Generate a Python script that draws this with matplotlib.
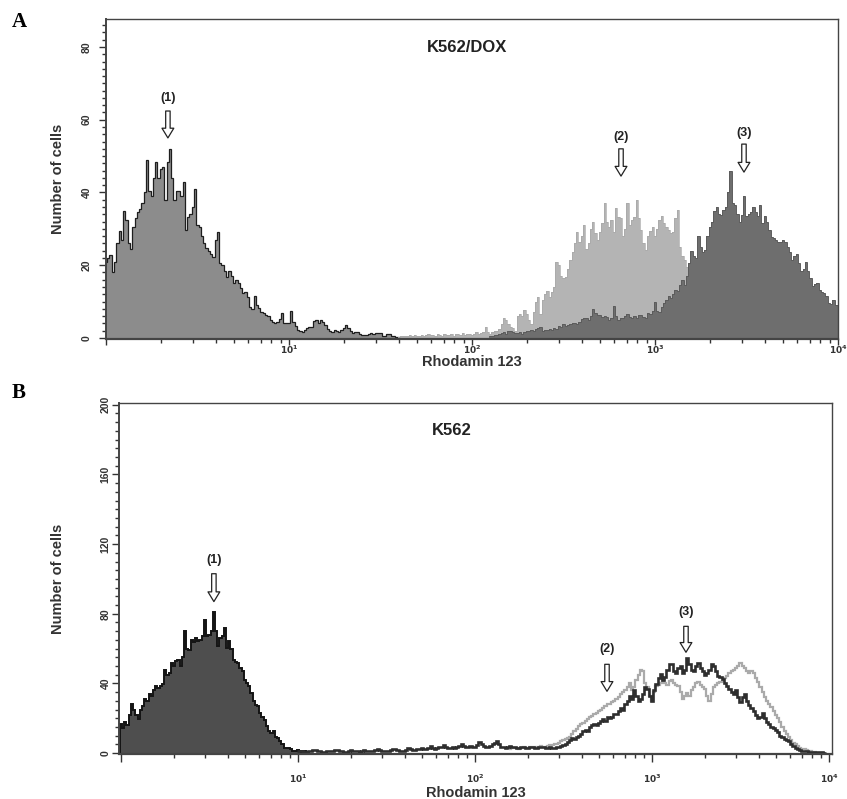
import numpy as np
import matplotlib.pyplot as plt
from matplotlib.ticker import FixedLocator, MultipleLocator, LogLocator, NullFormatter

plt.rcParams['font.family'] = ['Liberation Sans', 'DejaVu Sans']

STEP = 0.0125  # channel width in log10 units

# ---- panel A : K562/DOX ----
a1_start = 0.0
a1_counts = [21, 22, 22.8, 18, 21, 26, 29.5, 27, 35, 32.4, 26, 24.5, 30.6, 33, 34.5, 35.5,
             37, 40, 49, 40.5, 39, 44, 48.5, 44, 46.5, 47, 38, 48.5, 52, 44, 38, 40.5,
             40.5, 39, 43, 29.7, 33.3, 34, 36, 41, 31, 30.6, 28, 26, 24.6, 24, 23, 22.3,
             27, 29, 20.5, 20, 18.5, 16.8, 18.5, 17, 15, 15.9, 15, 13.8, 12.3, 12.5, 11.2,
             8.6, 8, 11.5, 9, 8.3, 7.2, 6.8, 6.2, 5.9, 5, 4.4, 4.2, 4.5, 5.2, 6.8, 4.2, 4,
             4, 7.5, 4.5, 3.4, 2.3, 1.9, 1.7, 2.2, 2.8, 3.1, 3.1, 4.6, 4.8, 4, 4.8, 4.3,
             3.6, 2.4, 2, 1.7, 2.2, 1.9, 1.7, 2.2, 2.8, 3.6, 2.7, 1.8, 1.3, 1.5, 1.7, 1.2,
             0.9, 0.8, 0.7, 1.2, 1.3, 1.0, 1.3, 1.4, 1.3, 0.6, 0.5, 1.2, 1.2, 0.5, 0.4,
             0.3, 0.3]
a2_start = 1.6
a2_counts = [0.3, 0.5, 0.4, 0.6, 0.5, 0.7, 0.4, 0.8, 0.6, 0.5, 0.9, 0.6, 0.8, 1.0, 0.7,
             0.9, 0.6, 1.0,
             0.8, 0.6, 1.1, 0.7, 0.9, 1.2, 0.6, 1.0, 1.2, 0.8, 1.3, 0.7, 1.0, 1.2, 0.9,
             1.2, 1.5, 1.0, 1.3, 1.6, 3.0, 1.5, 1.2, 1.6, 1.8, 2.0, 2.5, 3.8, 5.5, 4.8,
             3.8, 3.0, 2.6, 2.0, 6.0, 6.5, 6.0, 7.7, 6.5, 5.0, 3.8, 7, 10, 11.3, 6.6,
             10.5, 12, 13, 11.3, 12.5, 14, 21, 20, 17, 16.4, 16.8, 19, 21.4, 23.5, 26,
             29.2, 26.5, 28, 31, 24.5, 26, 30, 32, 28.8, 27, 29, 31.5, 37, 32, 30.6, 32.5,
             29, 35.6, 33.3, 33, 28, 30, 37, 31, 32.5, 33.3, 38, 33, 29.7, 26, 24.2, 27.9,
             29.5, 30.6, 27.9, 30, 32.5, 33.4, 31.5, 30.5, 29.7, 28.8, 29, 33, 35.2, 25.1,
             22.5, 21.4, 19.6, 19.5, 18.5, 17, 15, 13, 11, 9, 7, 5.5, 4]
a3_start = 2.1
a3_counts = [0.4, 0.6, 0.8, 0.7, 1.0, 1.3, 1.5, 1.2, 2.0,
             1.8, 1.6, 1.4, 1.3, 1.5, 1.2, 1.6, 2.0, 1.8, 2.2, 1.8, 2.5, 2.6, 3.0, 2.0,
             2.3, 2.2, 2.5, 2.3, 2.6, 2.5, 3.2, 3.0, 3.8, 3.4, 3.5, 3.9, 4.2, 4.0, 3.8,
             4.5, 5.2, 5.6, 5.5, 5.0, 6.0, 7.9, 6.8, 6.2, 6.2, 5.8, 6.0, 5.8, 4.8, 5.5,
             8.8, 6.0, 5.0, 5.4, 5.6, 6.0, 6.5, 5.8, 5.5, 5.9, 5.5, 6.2, 6.4, 5.8, 5.4,
             6.8, 6.6, 7.5, 10, 7.5, 7.2, 8.6, 9.5, 10.5, 11.4, 11, 12, 13.2, 12.8, 14.5,
             15.9, 14.6, 17, 20.5, 24, 22.5, 22, 27.9, 25, 23.7, 24.2, 28, 30.5, 32, 35,
             36, 34, 33.8, 35.2, 36, 40, 46, 37, 36.5, 34, 32, 33.8, 39, 33.5, 34, 34.7,
             36, 34.5, 33.5, 36.5, 31.5, 33.5, 32, 29.7, 27.8, 27.4, 27, 26.3, 26.5, 27,
             26.5, 25, 23.5, 21.4, 22.5, 23, 20.5, 18.5, 19, 20.9, 18.5, 16.5, 14.2, 14.8,
             15, 13.2, 12.5, 12.3, 11.4, 9.5, 9.3, 10.3, 9.1, 9.0]

# ---- panel B : K562 ----
b1_start = 0.0
b1_counts = [16.6, 14.5, 17.6, 16, 22, 28, 24.5, 22, 19.7, 25, 27.3, 31, 30, 33.9, 33, 36,
             38.5, 37.6, 38.5, 39.5, 48, 45, 46, 51.8, 50, 52.7, 53.6, 50, 55, 70, 60,
             59.4, 65.2, 64, 66.1, 64.2, 65, 67.1, 76.7, 67.1, 68, 70, 81, 70, 61.3, 66,
             67.1, 71.9, 60.3, 64.2, 60, 53.6, 52.5, 51.8, 49, 47, 42.2, 40, 38.5, 34.6,
             30, 27.9, 27, 23.1, 21, 19.3, 15.5, 13, 11.7, 12.6, 9.5, 8.8, 6.9, 5, 3.1,
             3.1, 2.8, 2.5, 1.3, 1.5, 1.8, 1.0, 0.8, 1.2, 0.7]
b3_start = 1.0
b3_counts = [1.0, 1.3, 1.5, 0.9, 0.8, 1.1, 1.2, 1.6, 1.8,
             1.2, 1.0, 0.7, 0.8, 1.2, 1.5, 1.3, 1.2,
             1.6, 2.0, 1.3, 1.0, 0.9, 0.8, 1.2, 1.6,
             1.4, 1.2, 1.0, 0.9, 1.5, 2.0, 1.4, 1.0,
             1.2, 1.4, 1.9, 2.3, 1.6, 1.2, 1.1, 1.0,
             1.4, 1.8, 2.2, 2.5, 1.8, 1.4, 1.3, 1.2,
             1.9, 2.7, 2.2, 1.8, 2.0, 2.2, 2.6, 3.0,
             2.6, 2.3, 3.2, 4.0, 3.0, 2.5, 2.9, 3.3,
             3.8, 4.5, 3.5, 3.0, 3.2, 3.6, 3.0, 3.3,
             4.2, 5.1, 4.0, 3.5, 3.6, 4.0, 3.5, 3.3,
             4.5, 6.5, 5.0, 4.0, 3.5, 3.8, 4.2, 5.0,
             6.0, 7.0, 5.0, 3.8, 3.5, 3.2, 3.6, 4.2,
             3.8, 3.5, 3.2, 3.0, 3.4, 3.3, 3.0, 2.8,
             3.3, 3.5, 3.0, 3.2, 3.6, 3.8, 3.3, 3.0,
             3.2, 3.4, 3.0, 2.9, 3.4, 3.6, 4.2, 4.8,
             5.5, 6.5, 7.5, 8.5, 8.0, 9.5, 10.0, 10.8,
             12.5, 13.5, 13.0, 15, 16.0, 16.6, 16.0, 17.5,
             18.5, 19.5, 18.5, 20.5, 20.0, 21, 22.5, 22.4,
             24, 26, 25, 28.5, 30, 33, 31, 36,
             33, 30, 31, 34, 38, 36.7, 33, 30,
             36, 39.5, 43, 45.5, 42, 44, 48, 51,
             51, 47, 46, 49, 50, 46, 48, 54.5,
             51, 48, 47, 50, 52, 49, 47, 45,
             46, 48, 51, 50, 47, 44.3, 44, 42.4,
             40, 38.6, 37, 35, 34, 36, 32, 29.5,
             32, 34, 30, 27.5, 26, 24.2, 22, 20,
             21, 23, 20, 17.6, 16.5, 15, 14.5, 13.5,
             12, 10, 9, 8.1, 7.5, 7, 5.5, 4.2,
             3.2, 2.3, 1.8, 1.4, 1.2, 1.0, 0.9, 0.8,
             0.7, 0.6, 0.5, 0.4, 0.4, 0.3]
b2_start = 2.2
b2_counts = [2.5, 2.8, 3.0, 2.7, 2.6, 3.0, 3.4, 3.2, 3.0,
             3.5, 3.8, 3.5, 3.4, 3.8, 4.0, 3.8, 3.6,
             4.0, 4.5, 4.8, 5.0, 5.5, 6.0, 6.8, 7.5,
             8.0, 8.5, 9.5, 11, 12.5, 14, 15.5, 16.6,
             17.5, 18.5, 19.5, 20.5, 21.5, 22.4, 23, 24,
             25, 26, 27, 28, 28.5, 29.5, 30, 31,
             32, 34, 35, 36.5, 38, 40, 36, 38,
             42, 45, 48, 47, 40, 38, 33, 30,
             35, 38.6, 39, 40, 42, 40.5, 39, 41.5,
             42, 40, 39, 38.6, 35, 31, 33, 34.8,
             33, 36, 38, 40.5, 41, 39, 38, 37,
             33, 30, 34, 38, 39, 40.5, 41, 41.5,
             43, 44.3, 46, 47, 48, 49, 50, 51.9,
             50, 49, 47, 46.2, 47, 46, 43, 41,
             38, 35, 32, 30, 28, 26.5, 24, 22,
             20, 18, 15, 12.8, 11, 9.5, 7.5, 6,
             5, 4, 3.2, 2.6, 2.2, 1.8, 1.4, 1.0,
             0.8, 0.6]

# arrow annotations: label, x, arrow top, arrow tip, label y
a_arrows = [('(1)', 2.18, 62.4, 55.0, 66.0),
            ('(2)', 652, 52.0, 44.5, 55.3),
            ('(3)', 3063, 53.3, 45.6, 56.4)]
b_arrows = [('(1)', 3.35, 103, 87, 111),
            ('(2)', 557, 51, 35.5, 59.6),
            ('(3)', 1556, 72.8, 57.9, 80.8)]

xtick_vals = [1, 10, 100, 1000, 10000]
xtick_labels = ['', r'$\mathbf{10^{1}}$', r'$\mathbf{10^{2}}$', r'$\mathbf{10^{3}}$', r'$\mathbf{10^{4}}$']


def edges(start, counts):
    return 10 ** (start - STEP / 2 + STEP * np.arange(len(counts) + 1))


def style(ax, xlim, ylim, ymaj, ymin, xlen, xpad, ypad, ylab_x, xlab_y):
    ax.set_xscale('log')
    ax.set_xlim(*xlim)
    ax.set_ylim(*ylim)
    ax.xaxis.set_major_locator(FixedLocator(xtick_vals))
    ax.set_xticklabels(xtick_labels)
    ax.xaxis.set_minor_locator(LogLocator(base=10, subs=range(2, 10)))
    ax.xaxis.set_minor_formatter(NullFormatter())
    ax.yaxis.set_major_locator(MultipleLocator(ymaj))
    ax.yaxis.set_minor_locator(MultipleLocator(ymin))
    ax.tick_params(which='both', direction='out', color='#333', width=1)
    ax.tick_params(which='major', length=5)
    ax.tick_params(which='minor', length=3)
    ax.tick_params(axis='x', which='major', length=xlen)
    ax.tick_params(axis='x', labelsize=6.5, pad=xpad, labelcolor='#333')
    ax.tick_params(axis='y', labelsize=7.5, pad=ypad, labelcolor='#333', labelrotation=90)
    for lab in ax.get_yticklabels():
        lab.set_fontweight('bold')
        lab.set_va('center')
    for sp in ax.spines.values():
        sp.set_color('#444')
        sp.set_linewidth(1)
    ax.spines['bottom'].set_linewidth(1.6)
    ax.spines['left'].set_linewidth(1.4)
    ax.set_ylabel('Number of cells', fontsize=10.5, fontweight='bold', color='#333')
    ax.yaxis.set_label_coords(ylab_x, 0.5)
    ax.set_xlabel('Rhodamin 123', fontsize=10.5, fontweight='bold', color='#333')
    ax.xaxis.set_label_coords(0.5, xlab_y)


def arrows(ax, items):
    for lab, x, ytop, ytip, ylab in items:
        ax.annotate('', xy=(x, ytip), xytext=(x, ytop),
                    arrowprops=dict(arrowstyle='simple,head_length=0.7,head_width=0.85,tail_width=0.32',
                                    fc='white', ec='#222', lw=0.9, shrinkA=0, shrinkB=0))
        ax.text(x, ylab, lab, ha='center', va='center', fontsize=9,
                fontweight='bold', color='#222')


fig = plt.figure(figsize=(8.47, 7.99), dpi=100)
axA = fig.add_axes([0.1251, 0.5757, 0.8643, 0.4005])
axB = fig.add_axes([0.1405, 0.0563, 0.8418, 0.4393])

# panel A
e1 = edges(a1_start, a1_counts)
axA.stairs(a1_counts, e1, fill=True, color='#8c8c8c')
axA.stairs(a1_counts, e1, color='#1e1e1e', lw=0.9)
e2 = edges(a2_start, a2_counts)
axA.stairs(a2_counts, e2, fill=True, color='#b4b4b4')
axA.stairs(a2_counts, e2, color='#a8a8a8', lw=0.5, baseline=None)
e3 = edges(a3_start, a3_counts)
axA.stairs(a3_counts, e3, fill=True, color='#6e6e6e')
axA.stairs(a3_counts, e3, color='#5c5c5c', lw=0.7, baseline=None)
style(axA, (1, 10000), (-0.3, 87.7), 20, 2, 4, -0.5, 5, -0.056, -0.051)
axA.text(0.4385, 0.9125, 'K562/DOX', transform=axA.transAxes, ha='left', va='center',
         fontsize=12, fontweight='bold', color='#222')
arrows(axA, a_arrows)

# panel B
eb1 = edges(b1_start, b1_counts)
axB.stairs(b1_counts, eb1, fill=True, color='#4e4e4e')
axB.stairs(b1_counts, eb1, color='#141414', lw=1.4)
eb2 = edges(b2_start, b2_counts)
axB.stairs(b2_counts, eb2, color='#aaaaaa', lw=1.6, baseline=None)
eb3 = edges(b3_start, b3_counts)
axB.stairs(b3_counts, eb3, color='#2e2e2e', lw=1.9, baseline=None)
style(axB, (10 ** -0.011, 10 ** 4.017), (-0.5, 201), 40, 5, 6, 7.5, 1, -0.0757, -0.091)
axB.text(0.439, 0.923, 'K562', transform=axB.transAxes, ha='left', va='center',
         fontsize=12, fontweight='bold', color='#222')
arrows(axB, b_arrows)

fig.text(0.014, 1 - 22 / 799, 'A', ha='left', va='center', fontsize=15,
         fontweight='bold', family='Liberation Serif')
fig.text(0.014, 1 - 393 / 799, 'B', ha='left', va='center', fontsize=15,
         fontweight='bold', family='Liberation Serif')

fig.savefig('out.png', dpi=100, facecolor='white')
